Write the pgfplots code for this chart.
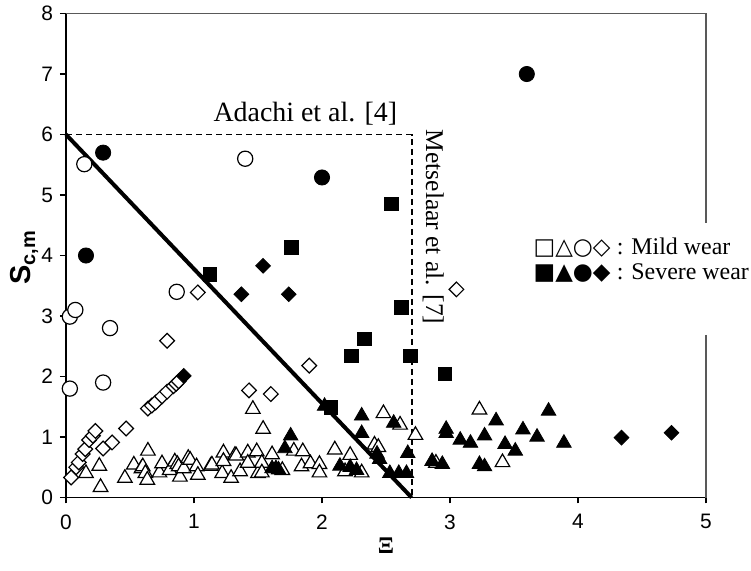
\documentclass[border=0pt]{standalone}
\usepackage{pgfplots}
\pgfplotsset{compat=1.18}
\usepackage{fontspec}
\setmainfont{Liberation Serif}
\newfontfamily\arial{Liberation Sans}
\newfontfamily\djv{DejaVu Sans}
\begin{document}
\begin{tikzpicture}
\begin{axis}[
  at={(0,0)}, anchor=south west,
  scale only axis, width=320bp, height=242bp,
  xmin=0, xmax=5, ymin=0, ymax=8,
  axis x line*=bottom, axis y line*=left,
  axis line style={line width=0.6bp, black},
  xtick={0,1,2,3,4,5}, ytick={0,1,2,3,4,5,6,7,8},
  tick align=outside, major tick length=3bp,
  tick style={black, line width=0.6bp},
  /pgf/number format/assume math mode=true,
  ticklabel style={font=\arial\fontsize{10.5}{12}\selectfont},
  xticklabel style={yshift=-2bp},
  clip=false,
  omark/.style={only marks, mark options={fill=white, draw=black, line width=0.6bp}},
  fmark/.style={only marks, mark options={fill=black, draw=black, line width=0.4bp}},
]
% boundary lines
\addplot[line width=2bp, black] coordinates {(0,6) (2.7,0)};
\addplot[line width=0.9bp, black, dash pattern=on 3bp off 2bp] coordinates {(0,6) (2.7,6) (2.7,0)};

% open circles (mild)
\addplot[omark, mark=*, mark size=3.8bp] coordinates {
(0.143,5.51) (1.40,5.60) (0.865,3.40) (0.03,2.99) (0.073,3.10) (0.344,2.80) (0.03,1.80) (0.29,1.90)};
% open diamonds (mild)
\addplot[only marks, mark=square*, mark size=2.6bp, mark options={rotate=45, fill=white, draw=black, line width=0.6bp}] coordinates {
(1.03,3.39) (0.79,2.59) (3.05,3.44) (1.90,2.18) (1.43,1.77) (1.60,1.71)
(0.64,1.47) (0.67,1.52) (0.70,1.57) (0.75,1.67) (0.79,1.75) (0.84,1.84) (0.86,1.88) (0.88,1.92)
(0.04,0.33) (0.08,0.50) (0.10,0.58) (0.13,0.72) (0.15,0.80) (0.18,0.95) (0.21,1.02) (0.23,1.10)
(0.29,0.81) (0.36,0.91) (0.47,1.14)};
% open triangles (mild)
\addplot[omark, mark=triangle*, mark size=4.2bp] coordinates {
(0.156,0.40) (0.26,0.52) (0.27,0.17) (0.46,0.32) (0.53,0.54) (0.59,0.48) (0.60,0.51) (0.62,0.40)
(0.635,0.29) (0.64,0.77) (0.73,0.41) (0.75,0.56) (0.81,0.45) (0.85,0.59) (0.87,0.55) (0.88,0.51)
(0.89,0.34) (0.92,0.48) (0.955,0.65) (0.97,0.62) (1.02,0.51) (1.03,0.37) (1.13,0.52) (1.14,0.54)
(1.22,0.40) (1.23,0.74) (1.23,0.60) (1.29,0.32) (1.32,0.70) (1.33,0.69) (1.36,0.43) (1.42,0.74)
(1.42,0.57) (1.49,0.76) (1.50,0.40) (1.53,0.57) (1.53,0.41) (1.61,0.71) (1.69,0.45) (1.78,0.77)
(1.85,0.76) (1.84,0.51) (1.91,0.56) (1.98,0.55) (1.98,0.41) (1.46,1.46) (1.54,1.13)
(2.10,0.79) (2.22,0.70) (2.18,0.43) (2.31,0.41) (2.41,0.87) (2.44,0.83) (2.48,1.39) (2.61,1.20)
(2.73,1.03) (2.89,0.57) (3.23,1.45) (3.41,0.58)};

% filled squares (severe)
\addplot[fmark, mark=square*, mark size=3.4bp] coordinates {
(1.125,3.69) (1.76,4.13) (2.54,4.85) (2.62,3.14) (2.33,2.62) (2.23,2.34) (2.69,2.34) (2.96,2.04) (2.07,1.49)};
% filled circles (severe)
\addplot[fmark, mark=*, mark size=3.8bp] coordinates {
(0.29,5.70) (0.156,4.0) (2.0,5.29) (3.60,7.0)};
% filled diamonds (severe)
\addplot[only marks, mark=square*, mark size=2.6bp, mark options={rotate=45, fill=black, draw=black, line width=0.4bp}] coordinates {
(1.54,3.83) (1.37,3.36) (1.74,3.36) (0.92,2.01) (4.34,0.99) (4.73,1.07)};
% filled triangles (severe)
\addplot[fmark, mark=triangle*, mark size=4.2bp] coordinates {
(1.755,1.02) (1.71,0.81) (1.61,0.48) (1.64,0.48) (1.66,0.46) (2.02,1.51) (2.31,1.35) (2.31,1.06)
(2.56,1.23) (2.43,0.72) (2.45,0.63) (2.67,0.73) (2.14,0.52) (2.22,0.50) (2.27,0.45) (2.53,0.40)
(2.60,0.40) (2.66,0.40) (2.86,0.60) (2.94,0.55) (2.97,1.13) (2.97,1.06) (3.08,0.95) (3.16,0.90)
(3.27,1.02) (3.36,1.27) (3.43,0.88) (3.51,0.77) (3.57,1.12) (3.68,1.00) (3.77,1.43) (3.89,0.90)
(3.23,0.55) (3.27,0.51)};

% frame top/right
\draw[black!65, line width=0.6bp] (rel axis cs:0,1) -- (rel axis cs:1,1) -- (rel axis cs:1,0.5675);
\draw[black!65, line width=0.6bp] (rel axis cs:1,0.336) -- (rel axis cs:1,0);

% annotations
\node[anchor=base, inner sep=0, font=\fontsize{14}{16}\selectfont] at (axis cs:1.87,6.22) {Adachi et al. [4]};
\node[rotate=-90, inner sep=0, font=\fontsize{12.8}{14}\selectfont] at (axis cs:2.87,4.47) {Metselaar et al. [7]};

% legend text
\node[anchor=base west, inner sep=0, font=\djv\fontsize{11.5}{13}\selectfont] at (axis cs:3.65,4.02) {□△○◇};
\node[anchor=base west, inner sep=0, font=\djv\fontsize{11.5}{13}\selectfont] at (axis cs:3.65,3.61) {■▲●◆};
\node[anchor=base west, inner sep=0, font=\fontsize{12}{13}\selectfont] at (axis cs:4.30,4.02) {: Mild wear};
\node[anchor=base west, inner sep=0, font=\fontsize{12}{13}\selectfont] at (axis cs:4.30,3.61) {: Severe wear};

% axis labels
\node[font=\fontsize{12}{14}\selectfont\bfseries] at (rel axis cs:0.5,0) [yshift=-24bp] {Ξ};
\node[xshift=-21bp, rotate=90, font=\arial\bfseries\fontsize{14.5}{16}\selectfont] at (axis cs:0,3.96) {S\raisebox{-2.5bp}{\fontsize{10}{12}\selectfont c,m}};
\end{axis}
\pgfresetboundingbox
\path[use as bounding box] (-33bp,-36.75bp) rectangle (342.5bp,248.75bp);
\end{tikzpicture}
\end{document}
